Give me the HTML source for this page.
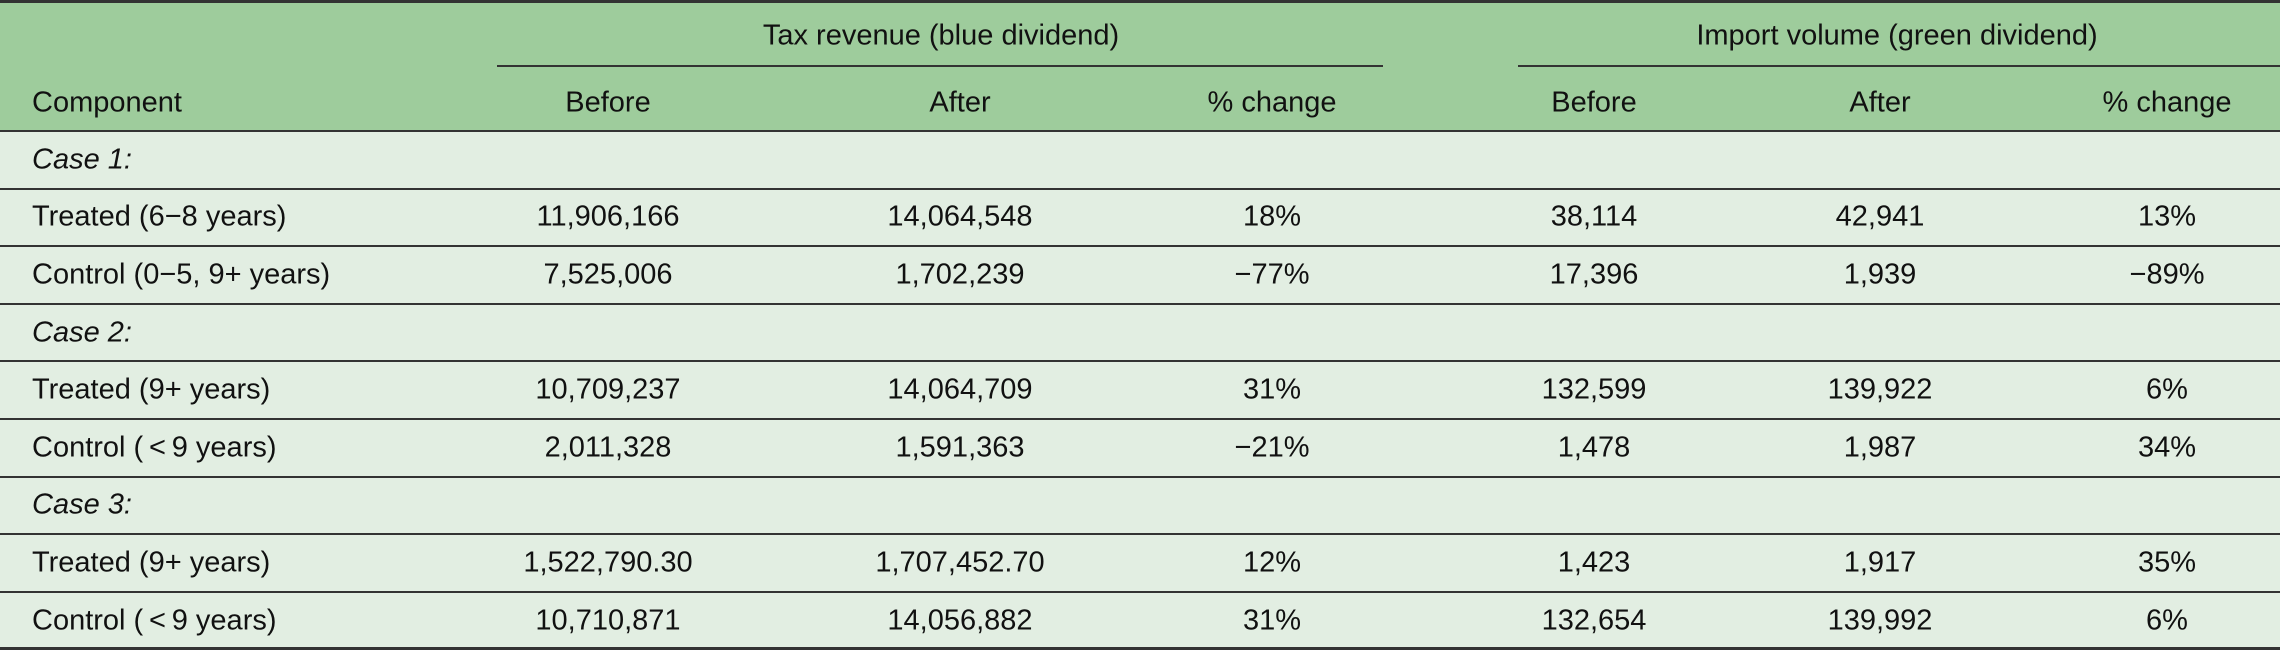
<!DOCTYPE html>
<html><head><meta charset="utf-8"><style>
body{margin:0;width:2280px;height:650px;overflow:hidden;background:#e2eee2;font-family:"Liberation Sans",sans-serif;font-size:29px;color:#111;}
#t{position:relative;width:2280px;height:650px;}
.hd{position:absolute;left:0;top:0;width:2280px;height:131px;background:#9ecc9c;}
.c{position:absolute;white-space:nowrap;transform:translate(-50%,-50%);line-height:1;}
.l{position:absolute;white-space:nowrap;transform:translateY(-50%);left:32px;line-height:1;}
.ln{position:absolute;height:2px;background:#333;}
</style></head><body>
<div id="t">
<div class="hd"></div>
<div class="ln" style="left:0;top:0;width:2280px;height:3px"></div>
<div class="c" style="left:941px;top:36px">Tax revenue (blue dividend)</div>
<div class="c" style="left:1897px;top:36px">Import volume (green dividend)</div>
<div class="ln" style="left:497px;top:65px;width:886px"></div>
<div class="ln" style="left:1518px;top:65px;width:762px"></div>
<div class="l" style="top:103px">Component</div>
</div>
<script>
const headers=["Before","After","% change","Before","After","% change"];
const rowLabels=["Case 1:","Treated (6\u22128 years)","Control (0\u22125, 9+ years)","Case 2:","Treated (9+ years)","Control (\u2009<\u20099 years)","Case 3:","Treated (9+ years)","Control (\u2009<\u20099 years)"];
const taxBefore=["","11,906,166","7,525,006","","10,709,237","2,011,328","","1,522,790.30","10,710,871"];
const taxAfter=["","14,064,548","1,702,239","","14,064,709","1,591,363","","1,707,452.70","14,056,882"];
const taxChange=["","18%","\u221277%","","31%","\u221221%","","12%","31%"];
const impBefore=["","38,114","17,396","","132,599","1,478","","1,423","132,654"];
const impAfter=["","42,941","1,939","","139,922","1,987","","1,917","139,992"];
const impChange=["","13%","\u221289%","","6%","34%","","35%","6%"];
const colX=[608,960,1272,1594,1880,2167];
const t=document.getElementById('t');
headers.forEach((h,i)=>{const d=document.createElement('div');d.className='c';d.style.left=colX[i]+'px';d.style.top='103px';d.textContent=h;


t.appendChild(d);});
const top0=131,rh=57.6;
const cols=[taxBefore,taxAfter,taxChange,impBefore,impAfter,impChange];
rowLabels.forEach((lab,r)=>{
 const y=top0+r*rh;
 const ln=document.createElement('div');ln.className='ln';ln.style.left='0';ln.style.width='2280px';ln.style.top=(y-1)+'px';
 
 
 t.appendChild(ln);
 const cy=y+rh/2;
 const l=document.createElement('div');l.className='l';l.style.top=cy+'px';l.textContent=lab;
 if(lab.startsWith('Case'))l.style.fontStyle='italic';
 
 
 t.appendChild(l);
 cols.forEach((arr,i)=>{if(!arr[r])return;const d=document.createElement('div');d.className='c';d.style.left=colX[i]+'px';d.style.top=cy+'px';d.textContent=arr[r];
 
 
 t.appendChild(d);});
});
const b=document.createElement('div');b.className='ln';b.style.left='0';b.style.width='2280px';b.style.top='647px';b.style.height='3px';


t.appendChild(b);
</script>
</body></html>
